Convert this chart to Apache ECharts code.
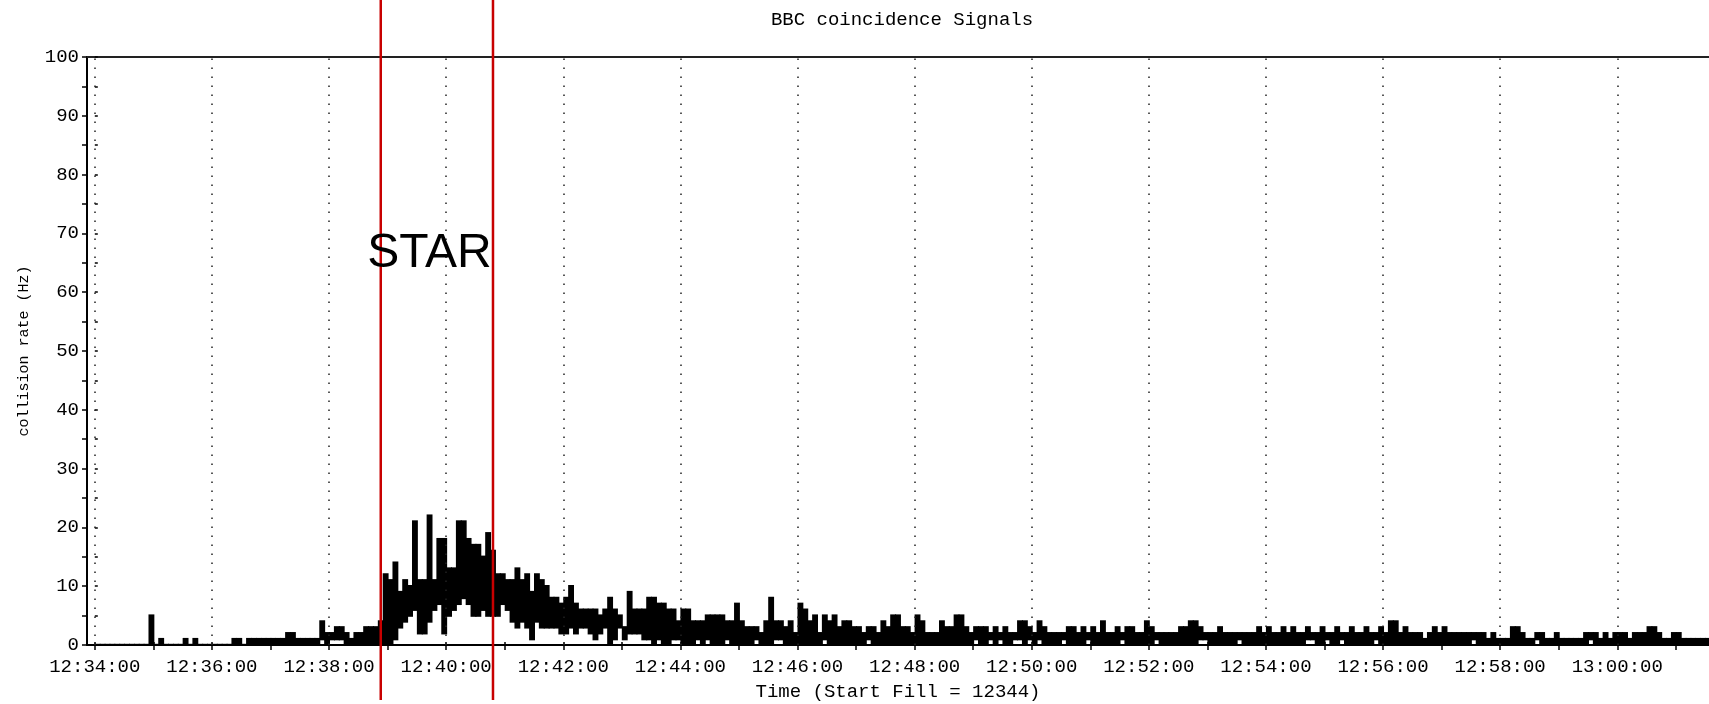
<!DOCTYPE html>
<html><head><meta charset="utf-8">
<script src="https://cdn.jsdelivr.net/npm/echarts@6/dist/echarts.min.js"></script>
<style>html,body{margin:0;padding:0;background:#fff}#c{width:1709px;height:704px}</style>
</head><body><div id="c"></div>
<script>
const titleText = 'BBC coincidence Signals';
const xAxisTitle = 'Time (Start Fill = 12344)';
const yAxisTitle = 'collision rate (Hz)';
const startClock = '12:34:00';
const binSeconds = 5;
// upper value of the trace in each 5 s bin (Hz)
const rateHigh = [
0,0,0,0,0,0,0,0,0,0,0,
5,0,1,0,0,0,0,1,0,1,
0,0,0,0,0,0,0,1,1,0,
1,1,1,1,1,1,1,1,2,2,
1,1,1,1,1,4,2,2,3,3,
2,1,2,2,3,3,3,4,
12,11,14,9,11,10,21,11,11,22,
11,18,18,13,13,21,21,18,17,17,
15,19,16,12,12,11,11,13,11,12,
9,12,11,10,8,8,7,8,10,7,
6,6,6,6,5,6,8,6,5,3,
9,6,6,
6,8,8,7,7,6,6,4,6,6,
4,4,4,5,5,5,5,4,4,7,
4,3,3,3,2,4,8,4,4,3,
4,2,7,6,4,5,2,5,4,5,
3,4,4,3,3,2,3,3,2,4,
3,5,5,3,3,2,5,4,2,2,
2,4,3,3,5,
5,3,2,3,3,3,2,3,2,3,
2,2,4,4,3,2,4,3,2,2,
2,2,3,3,2,3,2,3,2,4,
2,2,3,2,3,3,2,2,4,3,
2,2,2,2,2,3,3,4,4,3,
2,2,2,3,2,2,2,2,2,2,
2,3,2,3,2,2,3,2,3,2,
2,3,2,2,3,2,
2,3,2,2,3,2,2,3,2,2,
3,2,4,4,2,3,2,2,2,1,
2,3,2,3,2,2,2,2,2,2,
2,2,1,2,1,1,1,3,3,2,
1,1,2,2,1,1,2,1,1,1,
1,1,2,2,2,1,2,1,2,2,
2,1,2,2,2,3,3,2,1,1,
2,2,1,1,1,1,1,1
];
// lower value of the trace in each 5 s bin (Hz)
const rateLow = [
0,0,0,0,0,0,0,0,0,0,0,
0,0,0,0,0,0,0,0,0,0,
0,0,0,0,0,0,0,0,0,0,
0,0,0,0,0,0,0,0,0,0,
0,0,0,0,0,1,0,1,1,1,
0,0,0,0,0,0,0,0,
0,0,1,3,4,5,6,2,2,4,
6,7,2,5,6,7,8,7,5,5,
6,5,5,5,7,6,4,3,4,3,
1,4,3,3,3,3,2,2,3,2,
3,3,2,1,2,3,0,1,3,1,
2,2,2,
1,1,0,1,0,0,1,1,0,0,
0,1,0,1,0,0,0,1,0,0,
0,0,0,1,0,0,0,1,1,0,
0,0,0,0,0,0,0,1,0,0,
0,0,0,0,0,0,1,0,0,0,
0,0,0,0,0,0,0,0,0,0,
0,0,0,0,0,
0,0,0,1,0,0,1,0,1,0,
0,1,1,0,1,0,1,0,0,0,
0,1,0,0,0,0,1,0,0,0,
0,0,0,1,0,0,0,0,0,0,
1,0,0,0,0,0,0,0,0,1,
1,0,0,0,0,0,0,1,0,0,
0,0,0,0,0,0,0,0,0,0,
0,1,1,0,0,1,
0,0,1,0,0,0,0,0,0,1,
0,0,0,0,0,0,0,0,0,0,
0,0,0,0,0,0,0,0,0,1,
0,0,0,0,0,0,0,0,0,0,
0,0,1,0,0,0,0,0,0,0,
0,0,0,1,0,0,0,0,0,0,
0,0,0,0,0,0,0,0,0,0,
0,0,0,0,0,0,0,0
];
const xLabelSeconds = [0,120,240,360,480,600,720,840,960,1080,1200,1320,1440,1560];
const xTickSeconds = [0,60,120,180,240,300,360,420,480,540,600,660,720,780,840,900,960,1020,1080,1140,1200,1260,1320,1380,1440,1500,1560,1620];
const gridSeconds = [0,120,240,360,480,600,720,840,960,1080,1200,1320,1440,1560];
const axisSecondsMin = -8, axisSecondsMax = 1654;
const markerClocks = ['12:38:53', '12:40:48'];
const annotationText = 'STAR';
const annotationClock = '12:39:43';
const annotationRate = 66.5;

function clockToSec(c){const p=c.split(':').map(Number);return p[0]*3600+p[1]*60+p[2];}
const baseSec = clockToSec(startClock);
function secToClock(s){let v=baseSec+Math.round(s);const h=Math.floor(v/3600),m=Math.floor((v%3600)/60),x=v%60;
  const pad=n=>(n<10?'0':'')+n;return pad(h)+':'+pad(m)+':'+pad(x);}

const mono = '"Liberation Mono", "DejaVu Sans Mono", monospace';
const data = rateHigh.map((h,i)=>[i*binSeconds, h, rateLow[i]]);

const chart = echarts.init(document.getElementById('c'), null, {renderer:'canvas'});
const option = {
  animation:false,
  backgroundColor:'#fff',
  title:{text:titleText,left:902,top:10,textAlign:'center',padding:0,
    textStyle:{fontFamily:mono,fontSize:19,fontWeight:'normal',color:'#000'}},
  grid:{left:87,right:0,top:57,bottom:59,containLabel:false,outerBoundsMode:'none'},
  xAxis:[
    {type:'value',min:axisSecondsMin,max:axisSecondsMax,position:'bottom',
     axisLine:{show:true,onZero:false,lineStyle:{color:'#000',width:2}},
     axisTick:{show:true,customValues:xTickSeconds,length:5,lineStyle:{color:'#000',width:1.5}},
     axisLabel:{customValues:xLabelSeconds,formatter:v=>secToClock(v),fontFamily:mono,fontSize:19,color:'#000',margin:12},
     splitLine:{show:false},
     name:xAxisTitle,nameLocation:'middle',nameGap:37,
     nameTextStyle:{fontFamily:mono,fontSize:19,color:'#000'}},
    {type:'value',min:axisSecondsMin,max:axisSecondsMax,position:'bottom',
     axisLine:{show:false},
     axisTick:{show:true,inside:true,customValues:xTickSeconds,length:3,lineStyle:{color:'#000',width:1.5}},
     axisLabel:{show:false},splitLine:{show:false}},
    {type:'value',min:axisSecondsMin,max:axisSecondsMax,position:'top',
     axisLine:{show:true,onZero:false,lineStyle:{color:'#222',width:2}},
     axisTick:{show:false},axisLabel:{show:false},splitLine:{show:false}}
  ],
  yAxis:[
    {type:'value',min:0,max:100,interval:5,position:'left',
     axisLine:{show:true,onZero:false,lineStyle:{color:'#000',width:2}},
     axisTick:{show:true,length:5,lineStyle:{color:'#000',width:1.5}},
     axisLabel:{formatter:v=>(v%10===0?String(v):''),fontFamily:mono,fontSize:19,color:'#000',margin:8},
     splitLine:{show:false},
     name:yAxisTitle,nameLocation:'middle',nameGap:55,nameRotate:90,
     nameTextStyle:{fontFamily:mono,fontSize:15,color:'#000'}},
    {type:'value',min:0,max:100,interval:5,position:'left',
     axisLine:{show:false},
     axisTick:{show:true,inside:true,length:3,lineStyle:{color:'#000',width:1.5}},
     axisLabel:{show:false},splitLine:{show:false}}
  ],
  series:[{
    type:'custom',xAxisIndex:0,yAxisIndex:0,clip:true,
    data:data,
    encode:{x:0,y:[1,2]},
    renderItem:function(params,api){
      const t=api.value(0),hi=api.value(1),lo=api.value(2);
      const p1=api.coord([t,hi]),p2=api.coord([t+binSeconds,lo]);
      const yTop=p1[1]-1.2,yBot=p2[1]+1.2;
      return {type:'rect',shape:{x:p1[0],y:yTop,width:p2[0]-p1[0]+1,height:yBot-yTop},
        style:{fill:'#000'}};
    },
    markLine:{silent:true,symbol:['none','none'],label:{show:false},animation:false,
      lineStyle:{color:'#222',type:[1.5,7.5],width:1.5},
      data:gridSeconds.map(s=>({xAxis:s}))},
    z:2
  }]
};
chart.setOption(option);

const gfx = markerClocks.map(c=>{
  const x = chart.convertToPixel({xAxisIndex:0}, clockToSec(c)-baseSec);
  return {type:'line',shape:{x1:x,y1:0,x2:x,y2:700},style:{stroke:'#c80000',lineWidth:2.5},z:100};
});
const sp = chart.convertToPixel({gridIndex:0},[clockToSec(annotationClock)-baseSec, annotationRate]);
gfx.push({type:'text',x:sp[0],y:sp[1],z:101,
  style:{text:annotationText,fill:'#000',font:'48px "Liberation Sans", Arial, sans-serif',align:'center',verticalAlign:'middle'}});
chart.setOption({graphic:gfx});
</script></body></html>
